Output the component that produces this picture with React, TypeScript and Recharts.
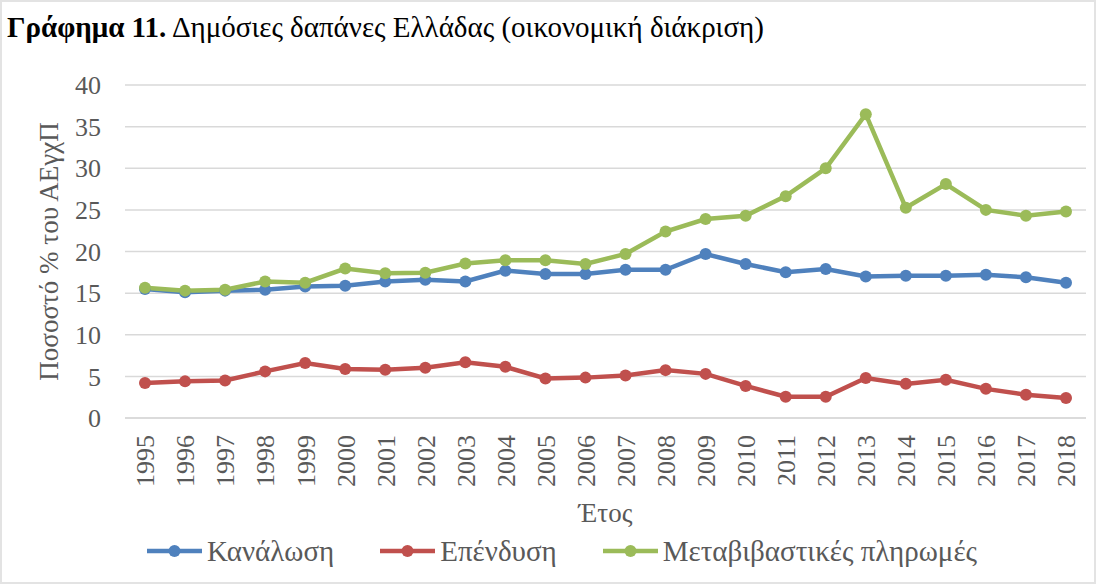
import React from "react";
import { LineChart, Line, XAxis, YAxis, CartesianGrid, Legend } from "recharts";

const years = ["1995","1996","1997","1998","1999","2000","2001","2002","2003","2004","2005","2006","2007","2008","2009","2010","2011","2012","2013","2014","2015","2016","2017","2018"];
const consumption = [15.5,15.1,15.3,15.4,15.8,15.9,16.4,16.6,16.4,17.7,17.3,17.3,17.8,17.8,19.7,18.5,17.5,17.9,17.0,17.1,17.1,17.2,16.9,16.25];
const investment = [4.2,4.4,4.5,5.6,6.6,5.9,5.8,6.05,6.7,6.15,4.75,4.85,5.1,5.75,5.3,3.85,2.55,2.55,4.8,4.1,4.6,3.5,2.8,2.4];
const transfers = [15.65,15.3,15.4,16.4,16.25,17.95,17.4,17.45,18.55,18.95,18.95,18.5,19.7,22.4,23.9,24.3,26.65,30.0,36.5,25.25,28.1,25.0,24.3,24.8];
const yTicks = [0,5,10,15,20,25,30,35,40];

const seriesNames = ["Κανάλωση", "Επένδυση", "Μεταβιβαστικές πληρωμές"];
const seriesKeys = ["c", "i", "t"];
const seriesColors = ["#4F81BD", "#C0504D", "#9BBB59"];

const data = years.map((y, k) => ({ year: y, c: consumption[k], i: investment[k], t: transfers[k] }));

const FONT = "'Liberation Serif', 'Times New Roman', serif";
const GREY = "#595959";

const XTick = (props: any) => {
  const { x, y, payload } = props;
  const ty = y + 17;
  return (
    <text x={x} y={ty} transform={`rotate(-90 ${x} ${ty})`} textAnchor="end" dy="0.36em"
      fill={GREY} fontSize={26} style={{ fontFamily: FONT }}>{payload.value}</text>
  );
};

const XLabel = (props: any) => {
  const vb = props.viewBox || {};
  const cx = vb.x + vb.width / 2;
  return (
    <text x={cx} y={vb.y + 104} textAnchor="middle" fill={GREY} fontSize={27} style={{ fontFamily: FONT }}>Έτος</text>
  );
};

const YLabel = (props: any) => {
  const vb = props.viewBox || {};
  const cx = vb.x + 48;
  const cy = vb.y + vb.height / 2;
  return (
    <text x={cx} y={cy} transform={`rotate(-90 ${cx} ${cy})`} textAnchor="middle" dy="0.36em"
      fill={GREY} fontSize={27} style={{ fontFamily: FONT }}>Ποσοστό % του ΑΕγχΠ</text>
  );
};

const LegendContent = () => (
  <div style={{ height: 66, display: "flex", alignItems: "center", justifyContent: "center", paddingLeft: 38, fontFamily: FONT, fontSize: 29, color: GREY }}>
    {seriesNames.map((n, k) => (
      <div key={n} style={{ display: "flex", alignItems: "center", marginLeft: k === 0 ? 0 : 46 }}>
        <svg width={55} height={16} style={{ marginRight: 5 }}>
          <line x1={0} y1={8} x2={55} y2={8} stroke={seriesColors[k]} strokeWidth={4.5} />
          <circle cx={27.5} cy={8} r={6} fill={seriesColors[k]} />
        </svg>
        <span>{n}</span>
      </div>
    ))}
  </div>
);

export default function App() {
  return (
    <div style={{ position: "absolute", left: 0, top: 0, width: 1096, height: 584, background: "#fff", overflow: "hidden" }}>
      <div style={{ position: "absolute", left: 0, top: 0 }}>
        <LineChart width={1096} height={584} data={data} margin={{ top: 85, right: 10, bottom: 0, left: 0 }}
          style={{ fontFamily: FONT }}>
          <CartesianGrid vertical={false} stroke="#d9d9d9" strokeWidth={1.5} />
          <XAxis dataKey="year" height={100} padding={{ left: 20, right: 20 }} interval={0}
            axisLine={{ stroke: "#d9d9d9", strokeWidth: 1.5 }} tickLine={false} tickSize={0} tickMargin={0}
            tick={<XTick />} label={<XLabel />} />
          <YAxis width={125} domain={[0, 40]} ticks={yTicks} interval={0} axisLine={false} tickLine={false}
            tickSize={0} tickMargin={24} tick={{ fill: GREY, fontSize: 26, style: { fontFamily: FONT } }} label={<YLabel />} />
          <Legend verticalAlign="bottom" content={<LegendContent />} />
          {seriesKeys.map((k, idx) => (
            <Line key={k} type="linear" dataKey={k} name={seriesNames[idx]} stroke={seriesColors[idx]} strokeWidth={4.5}
              dot={{ r: 6, fill: seriesColors[idx], stroke: "none" }} activeDot={false} isAnimationActive={false} />
          ))}
        </LineChart>
      </div>
      <div style={{ position: "absolute", left: 0, top: 0, width: 1096, height: 584, boxSizing: "border-box", border: "2px solid #e3e3e3", pointerEvents: "none" }} />
      <div style={{ position: "absolute", left: 7, top: 11, fontFamily: FONT, fontSize: 29, color: "#000", whiteSpace: "nowrap" }}>
        <b>Γράφημα 11.</b> Δημόσιες δαπάνες Ελλάδας (οικονομική διάκριση)
      </div>
    </div>
  );
}
